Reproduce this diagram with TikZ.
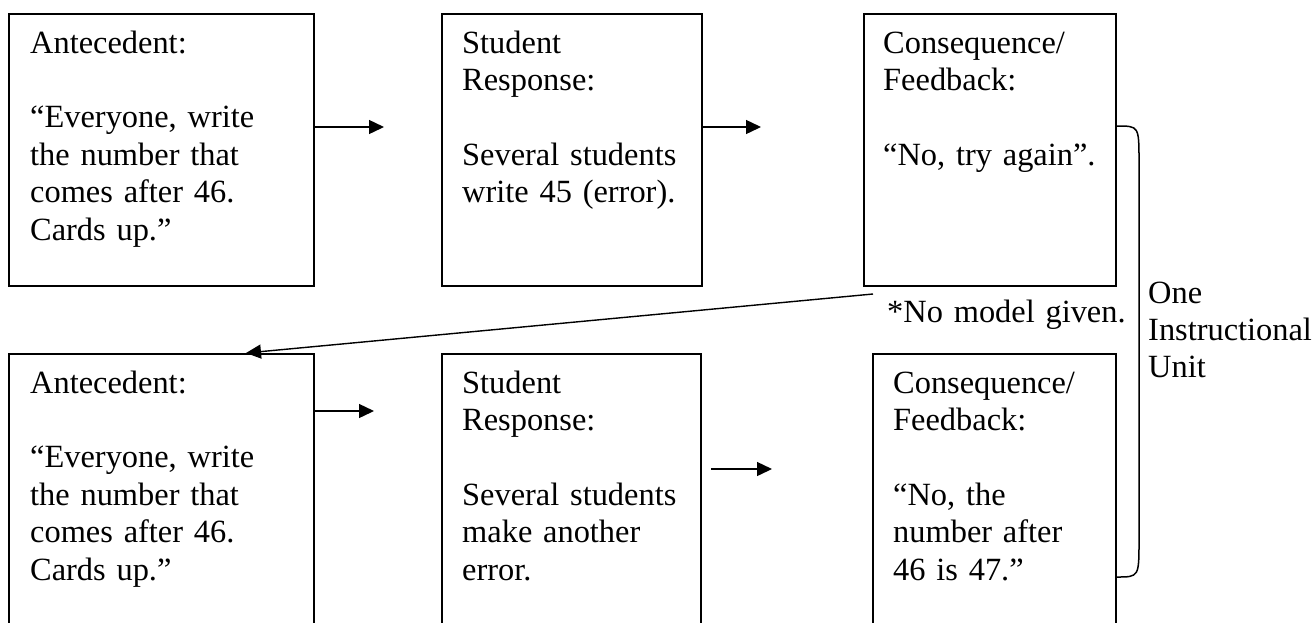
\documentclass[tikz,border=0pt]{standalone}
\usepackage{fontspec}
\setmainfont{Liberation Serif}[WordSpace=0.85]
\usetikzlibrary{arrows.meta,calc}
\begin{document}
\begin{tikzpicture}[x=1pt,y=-1pt,
  box/.style={draw,line width=1.8pt,rectangle,inner sep=0pt,anchor=north west},
  txt/.style={anchor=base west,inner sep=0pt,text width=290pt,align=left,
    font=\fontsize{32.4}{37.4}\selectfont},
  arr/.style={line width=1.4pt,-{Triangle[length=15pt,width=14pt]}}]
\useasboundingbox (0,0) rectangle (1313,622);
% top row boxes
\node[box,minimum width=305pt,minimum height=272pt] (b1) at (8,13) {};
\node[box,minimum width=260pt,minimum height=272pt] (b2) at (441,13) {};
\node[box,minimum width=252pt,minimum height=272pt] (b3) at (863,13) {};
% bottom row boxes
\node[box,minimum width=305pt,minimum height=270pt] (b4) at (8,353) {};
\node[box,minimum width=259pt,minimum height=270pt] (b5) at (441,353) {};
\node[box,minimum width=243pt,minimum height=270pt] (b6) at (872,353) {};
% texts
\node[txt] (t1) at (30,53) {Antecedent:\\[37.4pt]“Everyone, write\\the number that\\comes after 46.\\Cards up.”};
\node[txt] (t2) at (462,53) {Student\\Response:\\[37.4pt]Several students\\write 45 (error).};
\node[txt] (t3) at (883,53) {Consequence/\\Feedback:\\[37.4pt]“No, try again”.};
\node[txt] (t4) at (30,393) {Antecedent:\\[37.4pt]“Everyone, write\\the number that\\comes after 46.\\Cards up.”};
\node[txt] (t5) at (462,393) {Student\\Response:\\[37.4pt]Several students\\make another\\error.};
\node[txt] (t6) at (893,393) {Consequence/\\Feedback:\\[37.4pt]“No, the\\number after\\46 is 47.”};
\node[txt] (nm) at (887,322) {*No model given.};
\node[txt,text width=170pt] (unit) at (1148,303) {One\\Instructional\\Unit};
% arrow ends
\coordinate (e1) at (384,127);
\coordinate (e2) at (761,127);
\coordinate (e4) at (374,411);
\coordinate (s5) at (711,469);
\coordinate (e5) at (772,469);
\coordinate (sd) at (873,294);
\coordinate (ed) at (246,353);
\draw[arr] (b1.east |- e1) -- (e1);
\draw[arr] (b2.east |- e2) -- (e2);
\draw[arr] (b4.east |- e4) -- (e4);
\draw[arr] (s5) -- (e5);
\draw[arr] (sd) -- (ed);
% brace
\coordinate (bt) at (1115,126);
\coordinate (bb) at (1115,577);
\draw[line width=1.5pt] (b3.east |- bt) .. controls (1139,126) .. (1139,162) -- (1139,540) .. controls (1139,577) .. (b6.east |- bb);
\end{tikzpicture}
\end{document}
